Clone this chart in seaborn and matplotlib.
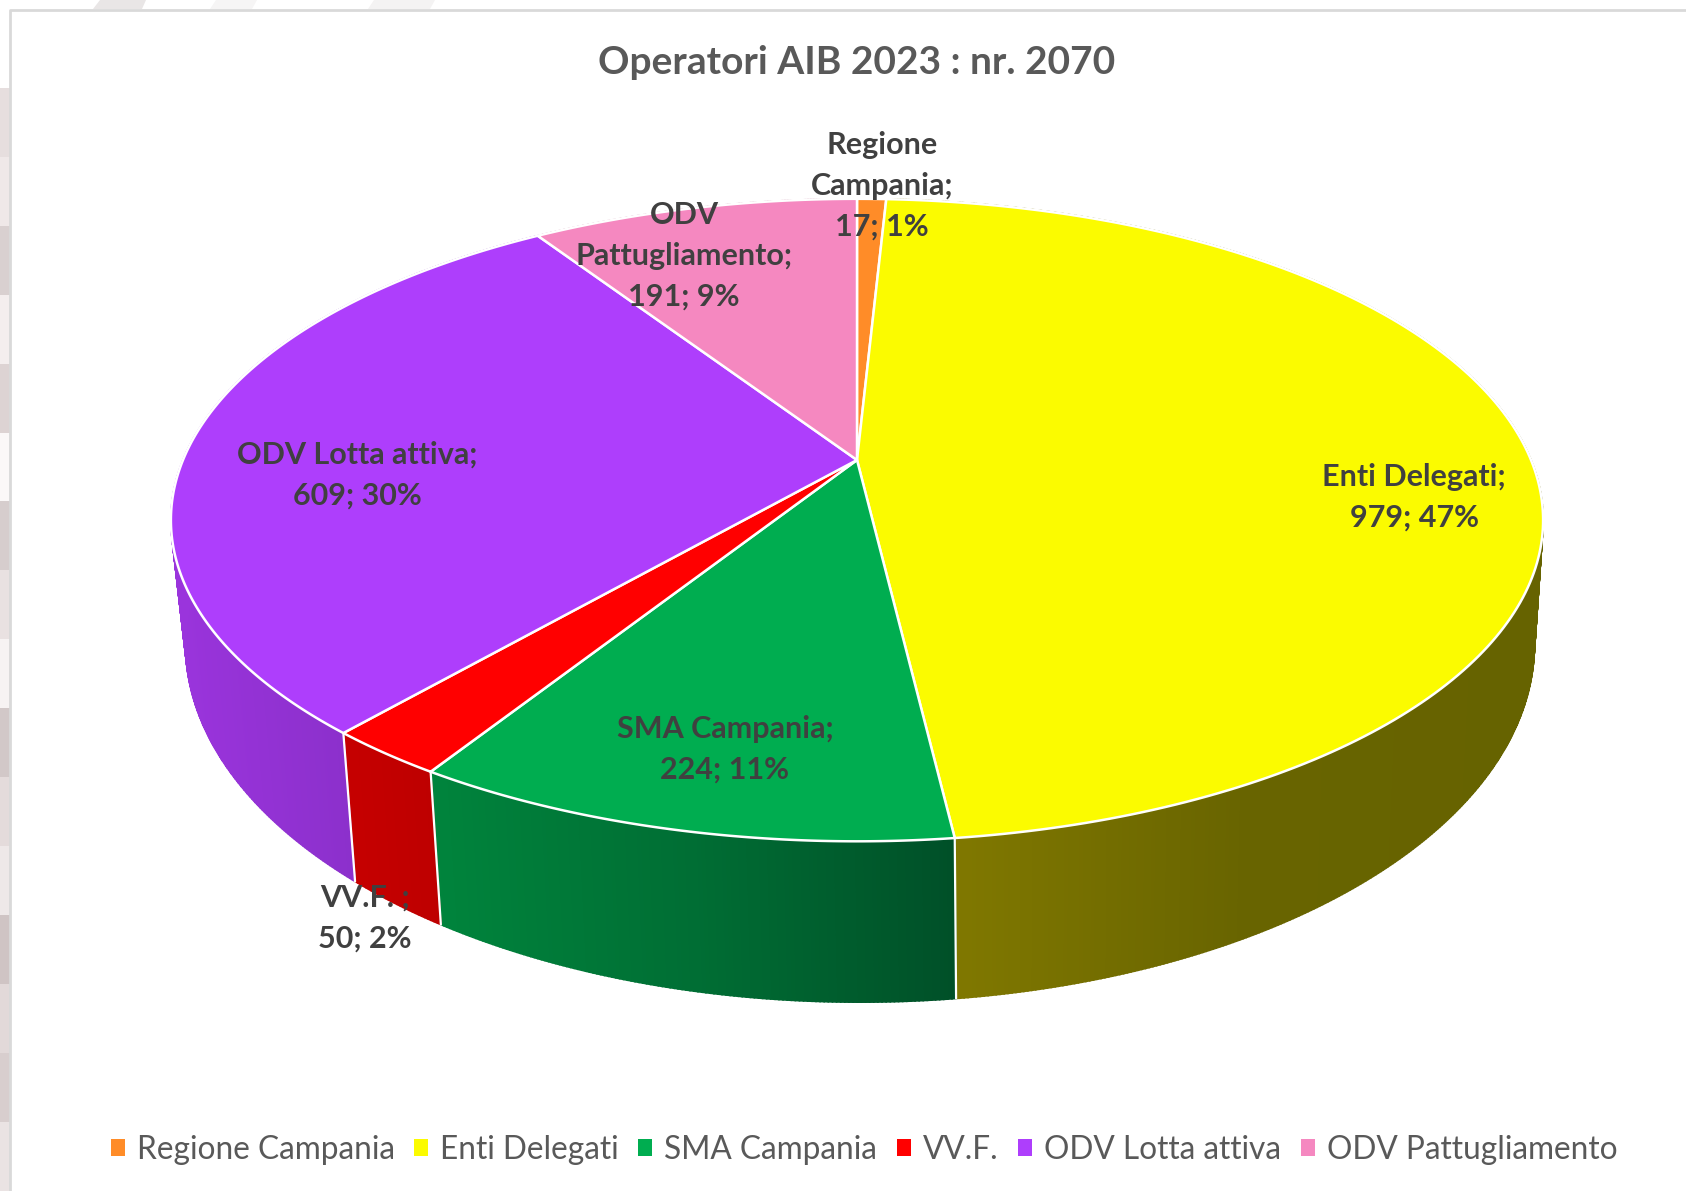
import numpy as np
import matplotlib.pyplot as plt
from matplotlib.patches import Patch
import seaborn as sns

names = ['Regione Campania', 'Enti Delegati', 'SMA Campania', 'VV.F.', 'ODV Lotta attiva', 'ODV Pattugliamento']
values = [17, 979, 224, 50, 609, 191]
percents = [1, 47, 11, 2, 30, 9]
wrapped = ['Regione\nCampania;', 'Enti Delegati;', 'SMA Campania;', 'VV.F. ;', 'ODV Lotta attiva;', 'ODV\nPattugliamento;']
top_colors = ['#FF8C28', '#FBFB00', '#00AD50', '#FF0000', '#AE3EFC', '#F588C0']
# side shading, left to right
side_colors = [
    ['#C06A1E', '#C06A1E'],
    ['#807800', '#686400', '#666300'],
    ['#00843C', '#006E34', '#005028'],
    ['#C60000', '#BE0000'],
    ['#9A34DC', '#8C30CC'],
    ['#B8668F', '#B8668F'],
]
label_pos = [(882, 186), (1414, 497), (725, 749), (365, 918), (357, 475), (684, 256)]
left_tones = ['#E6DEDE', '#EFE8E8', '#D9D0D0', '#F4EEEE', '#DDD3D3', '#FBF8F8', '#D6CDCD', '#E9E1E1',
              '#F7F3F3', '#D2C8C8', '#E4DBDB', '#EEE8E8', '#CFC4C4', '#E2D9D9', '#D8CECE', '#EAE3E3']

sns.set_theme(style='white')
plt.rcParams['font.family'] = ['Lato', 'DejaVu Sans']

fig = plt.figure(figsize=(16.86, 11.91), dpi=100)
ax = fig.add_axes([0, 0, 1, 1])
ax.axis('off')

# perspective circle, theta clockwise from top
cx, cy, a, b, k = 857, 460, 674, 310, 0.187
cx2, cy2, sx, sy = 860, 577, 0.983, 1.115


def upper(t):
    w = 1 + k * np.cos(t)
    return a * np.sin(t) / w, b * np.cos(t) / w


def top_xy(t):
    x, y = upper(t)
    return cx + x, cy - y


def low_xy(t):
    x, y = upper(t)
    return cx2 + sx * x, cy2 - sy * y


def mix(stops, f):
    rgb = np.array(sns.color_palette(stops))
    pos = np.linspace(0, 1, len(stops))
    return [np.interp(f, pos, rgb[:, i]) for i in range(3)]


# photo showing behind the card
ax.imshow(np.array(sns.color_palette(left_tones))[:, None, :], extent=(0, 10, 1191, 88), aspect='auto', zorder=0)
ax.set_xlim(0, 1686)
ax.set_ylim(1191, 0)
ax.fill([100, 146, 142, 93], [0, 0, 9, 9], color='#E9E6E6', lw=0, zorder=0)
ax.fill([216, 257, 252, 210], [0, 0, 9, 9], color='#F6F5F5', lw=0, zorder=0)
ax.fill([374, 435, 430, 368], [0, 0, 9, 9], color='#F4F3F3', lw=0, zorder=0)
ax.plot([1686, 10, 10], [9.5, 9.5, 1191], color='#D9D9D9', lw=2, zorder=1, solid_capstyle='butt')

edges = np.cumsum([0] + values) / sum(values) * 2 * np.pi

# sides first, each one in thin strips for the gradient
for i in range(len(values)):
    ts = np.linspace(edges[i], edges[i + 1], max(int((edges[i + 1] - edges[i]) * 200), 4))
    xs = top_xy(ts)[0]
    front = np.cos(ts) < 0.2
    x0, x1 = (xs[front].min(), xs[front].max()) if front.any() else (xs.min(), xs.max())
    for t0, t1 in zip(ts[:-1], ts[1:]):
        f = np.clip((top_xy(t0)[0] - x0) / max(x1 - x0, 1), 0, 1)
        c = mix(side_colors[i], f)
        px = [top_xy(t0)[0], top_xy(t1)[0], low_xy(t1)[0], low_xy(t0)[0]]
        py = [top_xy(t0)[1], top_xy(t1)[1], low_xy(t1)[1], low_xy(t0)[1]]
        ax.fill(px, py, color=c, lw=1.2, zorder=2)

for e in edges[2:5]:
    ax.plot([top_xy(e)[0], low_xy(e)[0]], [top_xy(e)[1], low_xy(e)[1]], color='white', lw=1.6, zorder=3)

# top face
for i in range(len(values)):
    ts = np.linspace(edges[i], edges[i + 1], 200)
    px, py = top_xy(ts)
    ax.fill(np.r_[cx, px], np.r_[cy, py], facecolor=top_colors[i], edgecolor='white', lw=1.8, zorder=4, joinstyle='round')

for i in range(len(values)):
    ax.text(label_pos[i][0], label_pos[i][1], f'{wrapped[i]}\n{values[i]}; {percents[i]}%',
            ha='center', va='center', multialignment='center', fontsize=22, fontweight='bold',
            color='#404040', linespacing=1.55, zorder=6)

ax.text(857, 62, 'Operatori AIB 2023 : nr. 2070', ha='center', va='center', fontsize=28, fontweight='bold', color='#595959')

handles = [Patch(facecolor=c, edgecolor='none') for c in top_colors]
ax.legend(handles, names, loc='center', bbox_to_anchor=(864 / 1686, 1 - 1150 / 1191), ncol=6, frameon=False,
          fontsize=22.8, labelcolor='#595959', handlelength=0.44, handleheight=0.44, handletextpad=0.38,
          columnspacing=0.62, borderpad=0)

plt.savefig('out.png', dpi=100)
